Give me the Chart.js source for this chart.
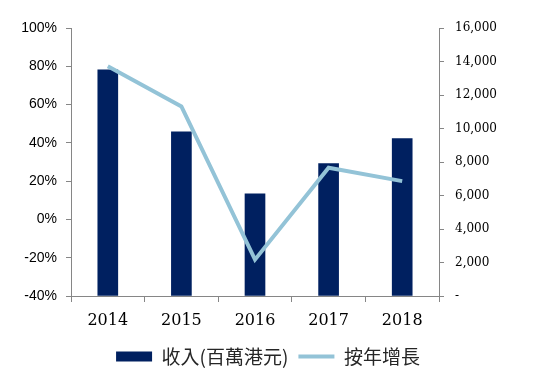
<!DOCTYPE html>
<html>
<head>
<meta charset="utf-8">
<script src="https://cdn.jsdelivr.net/npm/chart.js@4/dist/chart.umd.min.js"></script>
<style>
  html, body { margin: 0; padding: 0; background: #ffffff; }
  #chart { display: block; }
</style>
</head>
<body>
<canvas id="chart" width="536" height="387"></canvas>
<script>
'use strict';

// data
const years = ['2014', '2015', '2016', '2017', '2018'];
const revenue = [13500, 9800, 6100, 7900, 9400];      // 收入(百萬港元), right axis
const growth = [80, 59, -21, 27, 20];                  // 按年增長 %, left axis

const growthTicks = { min: -40, max: 100, step: 20 };
const revenueTicks = { min: 0, max: 16000, step: 2000 };

const axisGrey = '#868686';
const barColor = '#002060';
const lineColor = '#93C3D7';

const ctx = document.getElementById('chart').getContext('2d');

new Chart(ctx,
{
	data:
	{
		labels: years,
		datasets: [
			{
				type           : 'bar',
				label          : '收入(百萬港元)',
				data           : revenue,
				yAxisID        : 'y1',
				backgroundColor: barColor,
				borderWidth    : 0,
				barThickness   : 20,
				order          : 2
			},
			{
				type       : 'line',
				label      : '按年增長',
				data       : growth,
				yAxisID    : 'y',
				borderColor: lineColor,
				backgroundColor: lineColor,
				borderWidth: 4,
				pointRadius: 0,
				tension    : 0,
				order      : 1
			}
		]
	},
	options:
	{
		responsive: false,
		animation : false,
		layout    : { padding: { top: 28, left: 0, right: 0, bottom: 11 } },
		plugins:
		{
			tooltip: { enabled: false },
			legend:
			{
				position: 'bottom',
				labels:
				{
					color          : '#262626',
					font           : { family: '"Noto Sans CJK TC", "Noto Sans CJK SC", sans-serif', size: 19 },
					usePointStyle  : true,
					pointStyleWidth: 36,
					boxHeight      : 10,
					padding        : 10,
					sort           : (a, b) => a.datasetIndex - b.datasetIndex,
					generateLabels : function(chart) {
						const items = Chart.defaults.plugins.legend.labels.generateLabels(chart);
						items.forEach(item => {
							if (item.datasetIndex === 0) {
								item.pointStyle = 'rect';
								item.lineWidth = 0;
								item.fillStyle = barColor;
								item.strokeStyle = barColor;
							} else {
								item.pointStyle = 'line';
								item.lineWidth = 4;
								item.strokeStyle = lineColor;
							}
						});
						return items;
					}
				}
			}
		},
		scales:
		{
			x:
			{
				grid  : { drawOnChartArea: false, drawTicks: true, tickLength: 6, color: axisGrey, offset: true },
				border: { display: true, color: axisGrey, width: 1 },
				ticks : { color: '#000000', padding: 9, font: { family: '"DejaVu Serif", serif', size: 16 } },
				afterFit: function(scale) { scale.height = 41; }
			},
			y:
			{
				position: 'left',
				min     : growthTicks.min,
				max     : growthTicks.max,
				grid    : { drawOnChartArea: false, drawTicks: true, tickLength: 5, color: axisGrey },
				border  : { display: true, color: axisGrey, width: 1 },
				ticks   :
				{
					stepSize: growthTicks.step,
					color   : '#000000',
					padding : 9,
					font    : { family: '"Liberation Sans", sans-serif', size: 14 },
					callback: v => v + '%'
				},
				afterFit: function(scale) { scale.width = 71; }
			},
			y1:
			{
				position: 'right',
				min     : revenueTicks.min,
				max     : revenueTicks.max,
				grid    : { drawOnChartArea: false, drawTicks: true, tickLength: 5, color: axisGrey },
				border  : { display: true, color: axisGrey, width: 1 },
				ticks   :
				{
					stepSize: revenueTicks.step,
					color   : '#000000',
					padding : 11,
					font    : { family: '"DejaVu Serif", serif', size: 12 },
					callback: v => v === 0 ? '-' : v.toLocaleString('en-US')
				},
				afterFit: function(scale) { scale.width = 97; }
			}
		}
	}
});
</script>
</body>
</html>
